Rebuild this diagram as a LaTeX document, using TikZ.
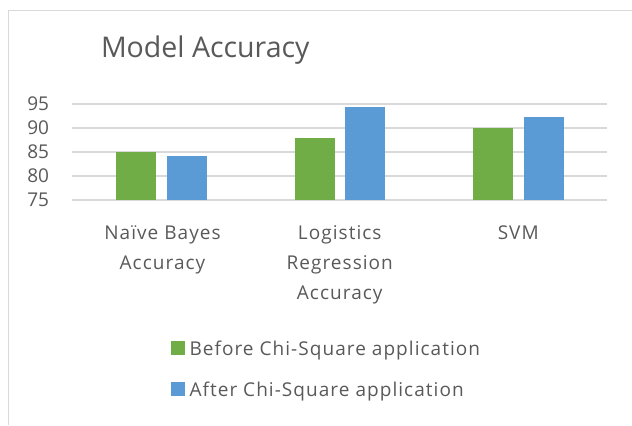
\documentclass[tikz,border=0pt]{standalone}
\usepackage{fontspec}
\setmainfont{Open Sans}
\newfontfamily\lblfont[LetterSpace=5.5]{Open Sans}
\usepackage{tikz}
\usetikzlibrary{positioning}
\definecolor{txtgray}{HTML}{595959}
\definecolor{gridgray}{HTML}{D9D9D9}
\definecolor{barbefore}{HTML}{70AD47}
\definecolor{barafter}{HTML}{5B9BD5}
\tikzstyle{lbl}=[text=txtgray, inner sep=0pt, outer sep=0pt,
        font=\lblfont\fontsize{19bp}{30bp}\selectfont]
\tikzstyle{val}=[text=txtgray, inner sep=0pt, outer sep=0pt,
        font=\fontsize{19bp}{24bp}\selectfont]
\tikzstyle{legsq}=[draw=none, inner sep=0pt, outer sep=0pt, minimum size=14bp]

\begin{document}
\begin{tikzpicture}[x=1bp, y=-1bp]
        \useasboundingbox (0,0) rectangle (632,425);

        % chart area border (cut at right and bottom)
        \draw[gridgray, line width=1.2bp] (8.5,425) -- (8.5,10.5) -- (632,10.5);

        \node[val, anchor=base west, font=\fontsize{28.5bp}{34bp}\selectfont] (title)
            at (101,57) {Model Accuracy};

        % grid lines and value axis
        \foreach \v in {75,80,...,95} {
            \draw[gridgray, line width=1.2bp] (72,{200-(\v-75)*4.8}) -- (607,{200-(\v-75)*4.8});
            \node[val, anchor=east] (y\v) at (49,{200-(\v-75)*4.8}) {\v};
        }

        % bars: centre / before / after
        \foreach \c/\b/\a [count=\i] in {161.25/85/84.2, 339.75/88/94.3, 518.25/90/92.3} {
            \fill[barbefore] (\c-45,200) rectangle (\c-5,{200-(\b-75)*4.8});
            \fill[barafter] (\c+5.5,200) rectangle (\c+45.5,{200-(\a-75)*4.8});
        }

        % category labels
        \node[lbl, align=center, anchor=north] (cat1) at (162.5,226)
            {Naïve Bayes\\Accuracy};
        \node[lbl, align=center, anchor=north] (cat2) at (339.75,226)
            {Logistics\\Regression\\Accuracy};
        \node[lbl, align=center, anchor=north] (cat3) at (518.25,226)
            {SVM};

        % legend
        \node[legsq, fill=barbefore] (legb) at (177.5,348) {};
        \node[legsq, fill=barafter, below=27bp of legb] (lega) {};
        \node[lbl, text depth=0pt, right=5bp of legb] (legbtxt)
            {Before Chi-Square application};
        \node[lbl, text depth=0pt, right=5bp of lega] (legatxt)
            {After Chi-Square application};

    \end{tikzpicture}
\end{document}
